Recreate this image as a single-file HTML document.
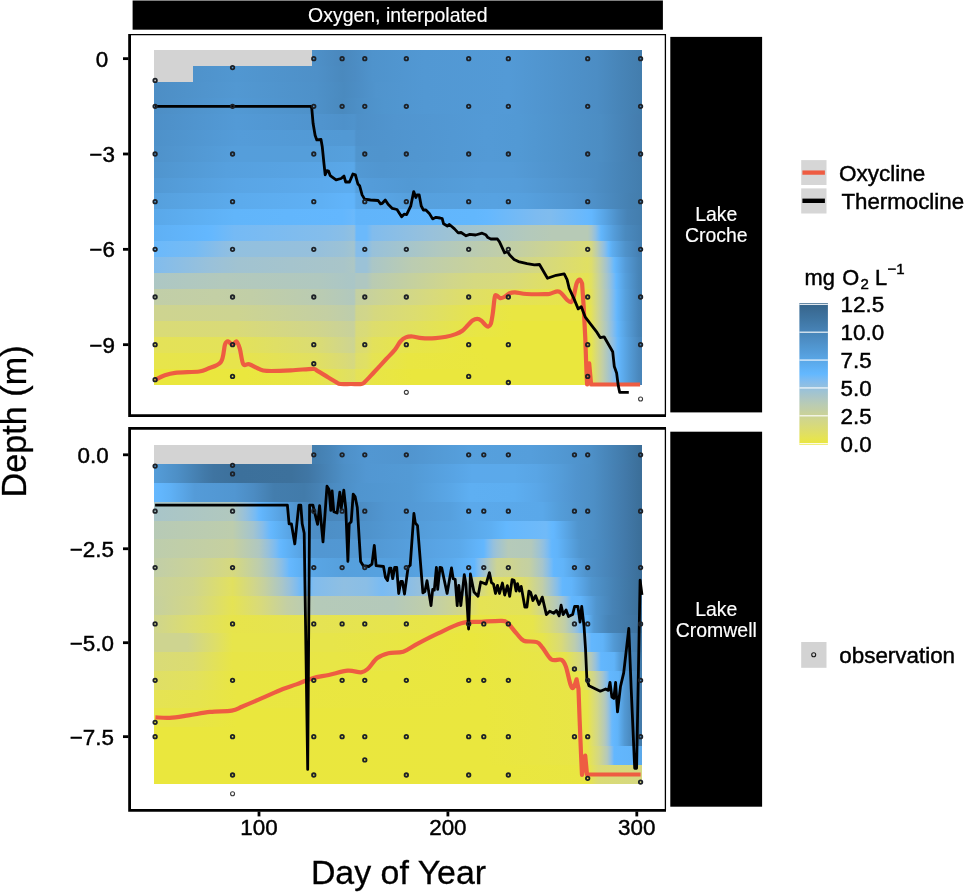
<!DOCTYPE html>
<html lang="en"><head><meta charset="utf-8"><title>Oxygen, interpolated</title>
<style>html,body{margin:0;padding:0;background:#fff}body{width:964px;height:893px;overflow:hidden}svg{display:block}text{font-family:"Liberation Sans", Arial, Helvetica, sans-serif;fill:#000;stroke:#000;stroke-width:0.45px}</style></head><body>
<svg width="964" height="893" viewBox="0 0 964 893">
<rect x="0" y="0" width="964" height="893" fill="#fff"/>
<defs><linearGradient id="a0" gradientUnits="userSpaceOnUse" x1="154.1" y1="0" x2="642" y2="0"><stop offset="0%" stop-color="#4d8ec5"/><stop offset="16.85%" stop-color="#5196d0"/><stop offset="33.12%" stop-color="#4e90c8"/><stop offset="38.54%" stop-color="#4a88bd"/><stop offset="41.63%" stop-color="#4c8dc4"/><stop offset="44.73%" stop-color="#4f93cc"/><stop offset="55.18%" stop-color="#5298d3"/><stop offset="72.61%" stop-color="#539ad6"/><stop offset="90.8%" stop-color="#4c8dc4"/><stop offset="95.84%" stop-color="#4784b7"/><stop offset="100%" stop-color="#437dad"/></linearGradient><linearGradient id="a1" gradientUnits="userSpaceOnUse" x1="154.1" y1="0" x2="642" y2="0"><stop offset="0%" stop-color="#4d8ec5"/><stop offset="16.85%" stop-color="#5197d1"/><stop offset="33.5%" stop-color="#4e90c8"/><stop offset="38.54%" stop-color="#4a89be"/><stop offset="41.25%" stop-color="#4c8cc3"/><stop offset="44.73%" stop-color="#4f93cc"/><stop offset="55.18%" stop-color="#5298d3"/><stop offset="72.61%" stop-color="#539ad6"/><stop offset="90.8%" stop-color="#4c8dc4"/><stop offset="95.84%" stop-color="#4784b7"/><stop offset="100%" stop-color="#437dad"/></linearGradient><linearGradient id="a2" gradientUnits="userSpaceOnUse" x1="154.1" y1="0" x2="642" y2="0"><stop offset="0%" stop-color="#4d8ec5"/><stop offset="16.85%" stop-color="#5298d2"/><stop offset="33.12%" stop-color="#4e91c9"/><stop offset="38.92%" stop-color="#4a8abf"/><stop offset="41.4%" stop-color="#4c8dc4"/><stop offset="45.5%" stop-color="#5094cd"/><stop offset="55.57%" stop-color="#5298d3"/><stop offset="72.61%" stop-color="#539ad6"/><stop offset="90.8%" stop-color="#4c8dc4"/><stop offset="95.84%" stop-color="#4784b7"/><stop offset="100%" stop-color="#437dad"/></linearGradient><linearGradient id="a3" gradientUnits="userSpaceOnUse" x1="154.1" y1="0" x2="642" y2="0"><stop offset="0%" stop-color="#4d8ec5"/><stop offset="16.47%" stop-color="#5299d4"/><stop offset="33.5%" stop-color="#4e91c9"/><stop offset="38.54%" stop-color="#4a8abf"/><stop offset="43.18%" stop-color="#4e91c9"/><stop offset="47.05%" stop-color="#5095ce"/><stop offset="55.57%" stop-color="#5298d3"/><stop offset="72.61%" stop-color="#539ad6"/><stop offset="90.8%" stop-color="#4c8dc4"/><stop offset="95.84%" stop-color="#4784b7"/><stop offset="100%" stop-color="#437dad"/></linearGradient><linearGradient id="a4" gradientUnits="userSpaceOnUse" x1="154.1" y1="0" x2="642" y2="0"><stop offset="0%" stop-color="#4d8fc7"/><stop offset="16.85%" stop-color="#539ad6"/><stop offset="34.28%" stop-color="#5094ce"/><stop offset="38.92%" stop-color="#4e91ca"/><stop offset="41.01%" stop-color="#4f93cc"/><stop offset="41.63%" stop-color="#4e90c8"/><stop offset="49.38%" stop-color="#5195cf"/><stop offset="68.35%" stop-color="#539ad6"/><stop offset="74.93%" stop-color="#5299d4"/><stop offset="91.58%" stop-color="#4c8dc3"/><stop offset="99.32%" stop-color="#447dae"/><stop offset="100%" stop-color="#437dad"/></linearGradient><linearGradient id="a5" gradientUnits="userSpaceOnUse" x1="154.1" y1="0" x2="642" y2="0"><stop offset="0%" stop-color="#4e91c9"/><stop offset="17.24%" stop-color="#549cd9"/><stop offset="39.31%" stop-color="#5299d4"/><stop offset="41.01%" stop-color="#5399d4"/><stop offset="41.4%" stop-color="#4f92cb"/><stop offset="67.96%" stop-color="#539ad6"/><stop offset="74.93%" stop-color="#5299d4"/><stop offset="91.58%" stop-color="#4c8dc3"/><stop offset="99.32%" stop-color="#447dae"/><stop offset="100%" stop-color="#437dad"/></linearGradient><linearGradient id="a6" gradientUnits="userSpaceOnUse" x1="154.1" y1="0" x2="642" y2="0"><stop offset="0%" stop-color="#4f92ca"/><stop offset="16.08%" stop-color="#559edb"/><stop offset="34.28%" stop-color="#559eda"/><stop offset="41.01%" stop-color="#56a0dd"/><stop offset="41.4%" stop-color="#5095ce"/><stop offset="46.67%" stop-color="#5094cd"/><stop offset="60.6%" stop-color="#5298d3"/><stop offset="68.73%" stop-color="#539ad6"/><stop offset="74.93%" stop-color="#5299d4"/><stop offset="91.58%" stop-color="#4c8dc3"/><stop offset="99.32%" stop-color="#447dae"/><stop offset="100%" stop-color="#437dad"/></linearGradient><linearGradient id="a7" gradientUnits="userSpaceOnUse" x1="154.1" y1="0" x2="642" y2="0"><stop offset="0%" stop-color="#5095ce"/><stop offset="14.92%" stop-color="#56a0de"/><stop offset="35.05%" stop-color="#59a5e5"/><stop offset="40.86%" stop-color="#5aa8e9"/><stop offset="41.01%" stop-color="#5aa8e9"/><stop offset="41.4%" stop-color="#5299d4"/><stop offset="46.67%" stop-color="#5196d0"/><stop offset="55.57%" stop-color="#5298d2"/><stop offset="67.57%" stop-color="#549bd8"/><stop offset="73.38%" stop-color="#549bd7"/><stop offset="90.8%" stop-color="#4c8dc4"/><stop offset="95.84%" stop-color="#4784b7"/><stop offset="100%" stop-color="#437dad"/></linearGradient><linearGradient id="a8" gradientUnits="userSpaceOnUse" x1="154.1" y1="0" x2="642" y2="0"><stop offset="0%" stop-color="#5299d4"/><stop offset="16.85%" stop-color="#59a5e5"/><stop offset="34.28%" stop-color="#5caaec"/><stop offset="40.08%" stop-color="#5dadf0"/><stop offset="41.01%" stop-color="#5dadf0"/><stop offset="41.4%" stop-color="#56a0dd"/><stop offset="44.34%" stop-color="#549cd9"/><stop offset="52.47%" stop-color="#5299d4"/><stop offset="66.41%" stop-color="#559edb"/><stop offset="74.54%" stop-color="#559dda"/><stop offset="89.25%" stop-color="#4e90c8"/><stop offset="95.84%" stop-color="#4784b7"/><stop offset="100%" stop-color="#437dad"/></linearGradient><linearGradient id="a9" gradientUnits="userSpaceOnUse" x1="154.1" y1="0" x2="642" y2="0"><stop offset="0%" stop-color="#56a0dd"/><stop offset="17.63%" stop-color="#5cabed"/><stop offset="34.28%" stop-color="#5fb0f4"/><stop offset="39.31%" stop-color="#61b4fa"/><stop offset="41.01%" stop-color="#61b4fa"/><stop offset="41.4%" stop-color="#5ba9eb"/><stop offset="52.47%" stop-color="#56a0dd"/><stop offset="69.9%" stop-color="#57a2e1"/><stop offset="76.09%" stop-color="#56a0de"/><stop offset="85.38%" stop-color="#5297d2"/><stop offset="90.42%" stop-color="#4e90c8"/><stop offset="97.77%" stop-color="#4580b1"/><stop offset="100%" stop-color="#437dad"/></linearGradient><linearGradient id="a10" gradientUnits="userSpaceOnUse" x1="154.1" y1="0" x2="642" y2="0"><stop offset="0%" stop-color="#5aa8e9"/><stop offset="16.47%" stop-color="#61b5fa"/><stop offset="38.54%" stop-color="#63b7fe"/><stop offset="40.08%" stop-color="#67b8fd"/><stop offset="41.01%" stop-color="#6bb9fb"/><stop offset="41.25%" stop-color="#62b7fd"/><stop offset="41.4%" stop-color="#61b4fa"/><stop offset="65.64%" stop-color="#62b7fd"/><stop offset="68.35%" stop-color="#65b8fe"/><stop offset="78.41%" stop-color="#7dbbf0"/><stop offset="81.12%" stop-color="#80bcee"/><stop offset="88.87%" stop-color="#66b8fe"/><stop offset="89.64%" stop-color="#63b7fe"/><stop offset="92.35%" stop-color="#58a4e4"/><stop offset="95.06%" stop-color="#4d8fc7"/><stop offset="97%" stop-color="#4783b6"/><stop offset="100%" stop-color="#437dad"/></linearGradient><linearGradient id="a11" gradientUnits="userSpaceOnUse" x1="154.1" y1="0" x2="642" y2="0"><stop offset="0%" stop-color="#5fb0f4"/><stop offset="10.66%" stop-color="#63b7fe"/><stop offset="11.82%" stop-color="#65b8fe"/><stop offset="16.47%" stop-color="#75baf5"/><stop offset="35.05%" stop-color="#84bdeb"/><stop offset="38.92%" stop-color="#8abee6"/><stop offset="41.01%" stop-color="#92c0df"/><stop offset="41.25%" stop-color="#7dbcf0"/><stop offset="41.4%" stop-color="#6bb9fb"/><stop offset="43.57%" stop-color="#6bb9fb"/><stop offset="44.73%" stop-color="#81bced"/><stop offset="56.73%" stop-color="#98c1db"/><stop offset="76.48%" stop-color="#b3c9bc"/><stop offset="81.51%" stop-color="#b7cab6"/><stop offset="88.87%" stop-color="#b7cab6"/><stop offset="89.64%" stop-color="#aac6c7"/><stop offset="90.42%" stop-color="#93c0df"/><stop offset="91.19%" stop-color="#72baf7"/><stop offset="91.58%" stop-color="#62b6fc"/><stop offset="94.29%" stop-color="#549cd9"/><stop offset="96.61%" stop-color="#4a8abf"/><stop offset="100%" stop-color="#447eaf"/></linearGradient><linearGradient id="a12" gradientUnits="userSpaceOnUse" x1="154.1" y1="0" x2="642" y2="0"><stop offset="0%" stop-color="#6bb9fb"/><stop offset="8.34%" stop-color="#76bbf4"/><stop offset="14.14%" stop-color="#8cbee5"/><stop offset="16.47%" stop-color="#92c0df"/><stop offset="33.5%" stop-color="#96c0dc"/><stop offset="38.92%" stop-color="#9cc2d6"/><stop offset="41.01%" stop-color="#a3c4cf"/><stop offset="41.4%" stop-color="#85bdea"/><stop offset="43.57%" stop-color="#85bdea"/><stop offset="44.73%" stop-color="#98c1da"/><stop offset="57.89%" stop-color="#b0c8c0"/><stop offset="67.19%" stop-color="#bcccaf"/><stop offset="74.16%" stop-color="#c3cfa4"/><stop offset="82.67%" stop-color="#cfd58d"/><stop offset="88.87%" stop-color="#d9db77"/><stop offset="89.64%" stop-color="#d5d881"/><stop offset="90.8%" stop-color="#bbccb1"/><stop offset="91.58%" stop-color="#a3c4cf"/><stop offset="92.35%" stop-color="#8bbee6"/><stop offset="93.13%" stop-color="#68b9fd"/><stop offset="93.51%" stop-color="#60b3f9"/><stop offset="93.9%" stop-color="#5dadf0"/><stop offset="96.61%" stop-color="#4f92ca"/><stop offset="99.32%" stop-color="#4681b4"/><stop offset="100%" stop-color="#457fb1"/></linearGradient><linearGradient id="a13" gradientUnits="userSpaceOnUse" x1="154.1" y1="0" x2="642" y2="0"><stop offset="0%" stop-color="#81bced"/><stop offset="11.43%" stop-color="#99c1da"/><stop offset="17.24%" stop-color="#a1c3d1"/><stop offset="38.92%" stop-color="#a9c5c9"/><stop offset="41.01%" stop-color="#adc7c4"/><stop offset="41.4%" stop-color="#9bc2d7"/><stop offset="43.57%" stop-color="#9bc2d7"/><stop offset="44.73%" stop-color="#aac6c7"/><stop offset="52.86%" stop-color="#bbccb1"/><stop offset="66.41%" stop-color="#c9d29a"/><stop offset="73.38%" stop-color="#cdd491"/><stop offset="85.77%" stop-color="#dddd6c"/><stop offset="88.87%" stop-color="#e0e063"/><stop offset="89.64%" stop-color="#dddd6d"/><stop offset="91.19%" stop-color="#c5d0a1"/><stop offset="92.74%" stop-color="#a2c3d0"/><stop offset="93.51%" stop-color="#89bee7"/><stop offset="94.29%" stop-color="#68b9fc"/><stop offset="94.68%" stop-color="#61b4fa"/><stop offset="96.61%" stop-color="#549bd8"/><stop offset="99.32%" stop-color="#4784b7"/><stop offset="100%" stop-color="#4581b2"/></linearGradient><linearGradient id="a14" gradientUnits="userSpaceOnUse" x1="154.1" y1="0" x2="642" y2="0"><stop offset="0%" stop-color="#adc7c4"/><stop offset="14.14%" stop-color="#b3c9bc"/><stop offset="33.89%" stop-color="#b0c8bf"/><stop offset="41.01%" stop-color="#aac6c7"/><stop offset="41.4%" stop-color="#afc7c1"/><stop offset="43.57%" stop-color="#afc7c1"/><stop offset="44.73%" stop-color="#b9cbb3"/><stop offset="60.99%" stop-color="#d1d68a"/><stop offset="65.64%" stop-color="#d5d980"/><stop offset="72.61%" stop-color="#d8da7b"/><stop offset="82.29%" stop-color="#e1e060"/><stop offset="88.87%" stop-color="#e5e354"/><stop offset="89.64%" stop-color="#e0e063"/><stop offset="91.19%" stop-color="#c8d29b"/><stop offset="92.74%" stop-color="#a8c5c9"/><stop offset="93.51%" stop-color="#92c0df"/><stop offset="94.29%" stop-color="#76baf5"/><stop offset="94.68%" stop-color="#63b8ff"/><stop offset="96.61%" stop-color="#559edb"/><stop offset="99.32%" stop-color="#4784b7"/><stop offset="100%" stop-color="#4581b2"/></linearGradient><linearGradient id="a15" gradientUnits="userSpaceOnUse" x1="154.1" y1="0" x2="642" y2="0"><stop offset="0%" stop-color="#c1cea8"/><stop offset="12.6%" stop-color="#c3cfa5"/><stop offset="19.95%" stop-color="#c1cea7"/><stop offset="34.66%" stop-color="#b9cbb3"/><stop offset="41.01%" stop-color="#b1c8be"/><stop offset="41.4%" stop-color="#c4d0a2"/><stop offset="43.96%" stop-color="#c7d19d"/><stop offset="45.89%" stop-color="#cad397"/><stop offset="57.51%" stop-color="#d8da7b"/><stop offset="65.64%" stop-color="#e0df64"/><stop offset="74.16%" stop-color="#e4e256"/><stop offset="88.87%" stop-color="#e8e547"/><stop offset="89.64%" stop-color="#e1e05f"/><stop offset="90.8%" stop-color="#d0d68b"/><stop offset="91.97%" stop-color="#bbccb0"/><stop offset="93.13%" stop-color="#a1c3d2"/><stop offset="94.29%" stop-color="#7abbf2"/><stop offset="94.68%" stop-color="#69b9fc"/><stop offset="95.06%" stop-color="#61b4fa"/><stop offset="96.61%" stop-color="#56a0dd"/><stop offset="99.32%" stop-color="#4784b8"/><stop offset="100%" stop-color="#4581b2"/></linearGradient><linearGradient id="a16" gradientUnits="userSpaceOnUse" x1="154.1" y1="0" x2="642" y2="0"><stop offset="0%" stop-color="#ced490"/><stop offset="17.24%" stop-color="#cdd491"/><stop offset="35.44%" stop-color="#c4cfa3"/><stop offset="41.01%" stop-color="#bdcdad"/><stop offset="41.4%" stop-color="#cfd58d"/><stop offset="43.57%" stop-color="#d1d68a"/><stop offset="45.12%" stop-color="#d5d880"/><stop offset="53.64%" stop-color="#dcdd6f"/><stop offset="66.02%" stop-color="#e6e44d"/><stop offset="73.38%" stop-color="#e9e642"/><stop offset="88.87%" stop-color="#e9e642"/><stop offset="89.64%" stop-color="#e3e15b"/><stop offset="90.8%" stop-color="#d1d68a"/><stop offset="91.58%" stop-color="#c3cfa5"/><stop offset="93.13%" stop-color="#a1c3d2"/><stop offset="94.29%" stop-color="#7abbf2"/><stop offset="94.68%" stop-color="#69b9fc"/><stop offset="95.06%" stop-color="#61b4fa"/><stop offset="96.61%" stop-color="#56a0dd"/><stop offset="99.32%" stop-color="#4784b8"/><stop offset="100%" stop-color="#4581b2"/></linearGradient><linearGradient id="a17" gradientUnits="userSpaceOnUse" x1="154.1" y1="0" x2="642" y2="0"><stop offset="0%" stop-color="#d9db77"/><stop offset="16.85%" stop-color="#d9da78"/><stop offset="33.5%" stop-color="#d0d58c"/><stop offset="41.01%" stop-color="#c8d19c"/><stop offset="41.4%" stop-color="#d8da7b"/><stop offset="43.57%" stop-color="#d9db77"/><stop offset="44.73%" stop-color="#dddd6d"/><stop offset="66.02%" stop-color="#e8e645"/><stop offset="73.77%" stop-color="#eae73d"/><stop offset="88.87%" stop-color="#eae73d"/><stop offset="89.64%" stop-color="#e4e258"/><stop offset="90.42%" stop-color="#d9db78"/><stop offset="91.58%" stop-color="#c4d0a2"/><stop offset="92.74%" stop-color="#adc7c4"/><stop offset="93.9%" stop-color="#8cbee5"/><stop offset="94.68%" stop-color="#6eb9f9"/><stop offset="95.06%" stop-color="#62b6fc"/><stop offset="97%" stop-color="#559dd9"/><stop offset="99.32%" stop-color="#4784b8"/><stop offset="100%" stop-color="#4581b2"/></linearGradient><linearGradient id="a18" gradientUnits="userSpaceOnUse" x1="154.1" y1="0" x2="642" y2="0"><stop offset="0%" stop-color="#e4e258"/><stop offset="16.85%" stop-color="#e3e259"/><stop offset="33.12%" stop-color="#dbdc72"/><stop offset="40.08%" stop-color="#cfd58f"/><stop offset="41.01%" stop-color="#ccd493"/><stop offset="41.4%" stop-color="#dadb74"/><stop offset="43.57%" stop-color="#dddd6d"/><stop offset="44.73%" stop-color="#e3e15b"/><stop offset="52.86%" stop-color="#e7e54a"/><stop offset="65.64%" stop-color="#eae73d"/><stop offset="88.87%" stop-color="#eae73d"/><stop offset="89.64%" stop-color="#e6e450"/><stop offset="90.8%" stop-color="#d5d880"/><stop offset="91.97%" stop-color="#c1cea8"/><stop offset="93.51%" stop-color="#9ec2d4"/><stop offset="94.29%" stop-color="#86bdea"/><stop offset="95.06%" stop-color="#65b8fe"/><stop offset="95.84%" stop-color="#5eaef1"/><stop offset="97.39%" stop-color="#549cd8"/><stop offset="99.32%" stop-color="#4a88bd"/><stop offset="100%" stop-color="#4784b8"/></linearGradient><linearGradient id="a19" gradientUnits="userSpaceOnUse" x1="154.1" y1="0" x2="642" y2="0"><stop offset="0%" stop-color="#e7e54b"/><stop offset="16.85%" stop-color="#e7e44c"/><stop offset="33.12%" stop-color="#e1e061"/><stop offset="39.31%" stop-color="#d9da78"/><stop offset="41.01%" stop-color="#d5d881"/><stop offset="41.4%" stop-color="#dede6a"/><stop offset="43.57%" stop-color="#e0e063"/><stop offset="44.73%" stop-color="#e5e354"/><stop offset="52.09%" stop-color="#e9e642"/><stop offset="68.35%" stop-color="#eae73d"/><stop offset="88.87%" stop-color="#eae73d"/><stop offset="89.64%" stop-color="#e6e450"/><stop offset="90.8%" stop-color="#d5d880"/><stop offset="91.97%" stop-color="#c1cea8"/><stop offset="93.51%" stop-color="#9ec2d4"/><stop offset="94.29%" stop-color="#86bdea"/><stop offset="95.06%" stop-color="#65b8fe"/><stop offset="95.84%" stop-color="#5eaef1"/><stop offset="97.39%" stop-color="#549cd8"/><stop offset="99.32%" stop-color="#4a88bd"/><stop offset="100%" stop-color="#4784b8"/></linearGradient><linearGradient id="a20" gradientUnits="userSpaceOnUse" x1="154.1" y1="0" x2="642" y2="0"><stop offset="0%" stop-color="#eae73d"/><stop offset="18.4%" stop-color="#eae73e"/><stop offset="33.12%" stop-color="#e8e548"/><stop offset="40.08%" stop-color="#e0e062"/><stop offset="41.01%" stop-color="#dfdf66"/><stop offset="41.4%" stop-color="#e4e258"/><stop offset="43.57%" stop-color="#e5e354"/><stop offset="44.73%" stop-color="#e8e547"/><stop offset="52.86%" stop-color="#eae73d"/><stop offset="88.87%" stop-color="#eae73d"/><stop offset="89.64%" stop-color="#e6e450"/><stop offset="90.8%" stop-color="#d5d880"/><stop offset="91.97%" stop-color="#c1cea8"/><stop offset="93.51%" stop-color="#9ec2d4"/><stop offset="94.29%" stop-color="#86bdea"/><stop offset="95.06%" stop-color="#65b8fe"/><stop offset="95.84%" stop-color="#5eaef1"/><stop offset="97.39%" stop-color="#549cd8"/><stop offset="99.32%" stop-color="#4a88bd"/><stop offset="100%" stop-color="#4784b8"/></linearGradient><linearGradient id="b0" gradientUnits="userSpaceOnUse" x1="154.1" y1="0" x2="642" y2="0"><stop offset="0%" stop-color="#447eaf"/><stop offset="33.12%" stop-color="#447fb0"/><stop offset="36.21%" stop-color="#4886ba"/><stop offset="38.92%" stop-color="#4e90c8"/><stop offset="43.57%" stop-color="#5297d2"/><stop offset="52.47%" stop-color="#5195cf"/><stop offset="64.48%" stop-color="#56a0dd"/><stop offset="77.25%" stop-color="#559edb"/><stop offset="82.67%" stop-color="#5299d4"/><stop offset="89.25%" stop-color="#4e91c9"/><stop offset="96.22%" stop-color="#427bab"/><stop offset="99.32%" stop-color="#3c709b"/><stop offset="100%" stop-color="#3c6e99"/></linearGradient><linearGradient id="b1" gradientUnits="userSpaceOnUse" x1="154.1" y1="0" x2="642" y2="0"><stop offset="0%" stop-color="#559dd9"/><stop offset="4.85%" stop-color="#4d8fc6"/><stop offset="10.27%" stop-color="#427aa9"/><stop offset="12.21%" stop-color="#3f74a1"/><stop offset="17.24%" stop-color="#3c709b"/><stop offset="28.08%" stop-color="#3d719c"/><stop offset="31.57%" stop-color="#4076a4"/><stop offset="38.92%" stop-color="#4d8fc6"/><stop offset="43.57%" stop-color="#5297d2"/><stop offset="52.47%" stop-color="#539ad5"/><stop offset="61.38%" stop-color="#58a4e4"/><stop offset="65.25%" stop-color="#5ba9eb"/><stop offset="73.77%" stop-color="#5ba9ea"/><stop offset="78.41%" stop-color="#59a5e5"/><stop offset="83.45%" stop-color="#549cd8"/><stop offset="86.54%" stop-color="#5094ce"/><stop offset="90.03%" stop-color="#4d8fc6"/><stop offset="96.61%" stop-color="#4279a9"/><stop offset="99.32%" stop-color="#3c709b"/><stop offset="100%" stop-color="#3c6e99"/></linearGradient><linearGradient id="b2" gradientUnits="userSpaceOnUse" x1="154.1" y1="0" x2="642" y2="0"><stop offset="0%" stop-color="#66b8fe"/><stop offset="1.37%" stop-color="#62b6fd"/><stop offset="3.3%" stop-color="#5fb1f6"/><stop offset="8.34%" stop-color="#549bd8"/><stop offset="16.47%" stop-color="#5196d1"/><stop offset="20.34%" stop-color="#4c8cc3"/><stop offset="24.6%" stop-color="#437dad"/><stop offset="30.79%" stop-color="#427baa"/><stop offset="33.5%" stop-color="#4681b3"/><stop offset="36.6%" stop-color="#4b8bc1"/><stop offset="42.02%" stop-color="#5095cf"/><stop offset="52.47%" stop-color="#539ad5"/><stop offset="60.99%" stop-color="#5aa7e7"/><stop offset="64.86%" stop-color="#5eaff2"/><stop offset="73.77%" stop-color="#5daef1"/><stop offset="78.41%" stop-color="#5aa7e8"/><stop offset="86.54%" stop-color="#5094ce"/><stop offset="90.03%" stop-color="#4d8fc6"/><stop offset="96.61%" stop-color="#4279a9"/><stop offset="99.32%" stop-color="#3c709b"/><stop offset="100%" stop-color="#3c6e99"/></linearGradient><linearGradient id="b3" gradientUnits="userSpaceOnUse" x1="154.1" y1="0" x2="642" y2="0"><stop offset="0%" stop-color="#a8c5c9"/><stop offset="16.08%" stop-color="#b1c8be"/><stop offset="18.79%" stop-color="#95c0dd"/><stop offset="20.73%" stop-color="#77bbf4"/><stop offset="21.5%" stop-color="#66b8fe"/><stop offset="22.27%" stop-color="#61b4fa"/><stop offset="26.53%" stop-color="#569fdd"/><stop offset="32.73%" stop-color="#4784b8"/><stop offset="39.31%" stop-color="#4a88bd"/><stop offset="47.44%" stop-color="#5196d1"/><stop offset="57.51%" stop-color="#559dda"/><stop offset="60.6%" stop-color="#56a0de"/><stop offset="64.86%" stop-color="#5ba9eb"/><stop offset="79.58%" stop-color="#5aa8e9"/><stop offset="83.06%" stop-color="#549dd9"/><stop offset="86.93%" stop-color="#5094cd"/><stop offset="90.03%" stop-color="#4d8fc6"/><stop offset="96.61%" stop-color="#4279a9"/><stop offset="99.32%" stop-color="#3c709b"/><stop offset="100%" stop-color="#3c6e99"/></linearGradient><linearGradient id="b4" gradientUnits="userSpaceOnUse" x1="154.1" y1="0" x2="642" y2="0"><stop offset="0%" stop-color="#b7cab6"/><stop offset="16.08%" stop-color="#bdcdad"/><stop offset="20.34%" stop-color="#a3c4cf"/><stop offset="22.27%" stop-color="#87bde9"/><stop offset="23.82%" stop-color="#66b8fe"/><stop offset="24.6%" stop-color="#61b5fa"/><stop offset="28.47%" stop-color="#57a1e0"/><stop offset="32.73%" stop-color="#4d8ec5"/><stop offset="43.96%" stop-color="#4f93cc"/><stop offset="48.22%" stop-color="#5298d3"/><stop offset="62.15%" stop-color="#58a4e3"/><stop offset="69.12%" stop-color="#5eaff2"/><stop offset="72.22%" stop-color="#63b8fe"/><stop offset="72.99%" stop-color="#66b8fd"/><stop offset="80.35%" stop-color="#70baf8"/><stop offset="81.51%" stop-color="#64b8fe"/><stop offset="81.9%" stop-color="#63b7fe"/><stop offset="86.16%" stop-color="#539ad5"/><stop offset="86.93%" stop-color="#5095ce"/><stop offset="90.03%" stop-color="#4d8fc6"/><stop offset="96.61%" stop-color="#4279a9"/><stop offset="99.32%" stop-color="#3c709b"/><stop offset="100%" stop-color="#3c6e99"/></linearGradient><linearGradient id="b5" gradientUnits="userSpaceOnUse" x1="154.1" y1="0" x2="642" y2="0"><stop offset="0%" stop-color="#bdcdad"/><stop offset="16.08%" stop-color="#c6d09f"/><stop offset="21.5%" stop-color="#afc7c1"/><stop offset="23.44%" stop-color="#95c0dd"/><stop offset="24.98%" stop-color="#79bbf3"/><stop offset="25.76%" stop-color="#66b8fe"/><stop offset="26.53%" stop-color="#61b5fb"/><stop offset="32.73%" stop-color="#5297d2"/><stop offset="44.34%" stop-color="#5298d3"/><stop offset="57.89%" stop-color="#59a4e4"/><stop offset="62.54%" stop-color="#5ba9ea"/><stop offset="67.57%" stop-color="#63b7fe"/><stop offset="68.35%" stop-color="#79bbf3"/><stop offset="69.51%" stop-color="#94c0de"/><stop offset="70.28%" stop-color="#9fc3d3"/><stop offset="72.61%" stop-color="#b5cab9"/><stop offset="77.25%" stop-color="#b3c9bb"/><stop offset="79.19%" stop-color="#9bc2d7"/><stop offset="79.96%" stop-color="#8dbfe4"/><stop offset="80.74%" stop-color="#7abbf2"/><stop offset="81.51%" stop-color="#63b7fe"/><stop offset="82.67%" stop-color="#61b4fa"/><stop offset="87.32%" stop-color="#5095ce"/><stop offset="91.58%" stop-color="#4a8ac0"/><stop offset="96.61%" stop-color="#4279a9"/><stop offset="99.32%" stop-color="#3c709b"/><stop offset="100%" stop-color="#3c6e99"/></linearGradient><linearGradient id="b6" gradientUnits="userSpaceOnUse" x1="154.1" y1="0" x2="642" y2="0"><stop offset="0%" stop-color="#c1cea8"/><stop offset="8.72%" stop-color="#cbd397"/><stop offset="16.08%" stop-color="#d6d97e"/><stop offset="21.5%" stop-color="#bdcdad"/><stop offset="24.6%" stop-color="#a3c4cf"/><stop offset="26.15%" stop-color="#8abee6"/><stop offset="27.31%" stop-color="#71baf8"/><stop offset="27.7%" stop-color="#66b8fe"/><stop offset="29.24%" stop-color="#60b3f8"/><stop offset="33.12%" stop-color="#59a5e4"/><stop offset="38.92%" stop-color="#56a0dd"/><stop offset="45.89%" stop-color="#56a1df"/><stop offset="52.47%" stop-color="#56a0de"/><stop offset="60.99%" stop-color="#5cabed"/><stop offset="65.64%" stop-color="#63b7fe"/><stop offset="66.41%" stop-color="#7ebcef"/><stop offset="67.19%" stop-color="#94c0de"/><stop offset="68.73%" stop-color="#b5c9ba"/><stop offset="70.28%" stop-color="#ccd493"/><stop offset="72.61%" stop-color="#cfd58d"/><stop offset="75.32%" stop-color="#c7d19d"/><stop offset="76.87%" stop-color="#c4d0a2"/><stop offset="79.19%" stop-color="#abc6c6"/><stop offset="79.58%" stop-color="#a6c5cc"/><stop offset="80.74%" stop-color="#8abee6"/><stop offset="81.51%" stop-color="#71baf8"/><stop offset="81.9%" stop-color="#63b7fe"/><stop offset="83.83%" stop-color="#61b4f9"/><stop offset="88.48%" stop-color="#5094cd"/><stop offset="96.61%" stop-color="#4279a9"/><stop offset="99.32%" stop-color="#3c709b"/><stop offset="100%" stop-color="#3c6e99"/></linearGradient><linearGradient id="b7" gradientUnits="userSpaceOnUse" x1="154.1" y1="0" x2="642" y2="0"><stop offset="0%" stop-color="#c8d19c"/><stop offset="7.95%" stop-color="#cfd58d"/><stop offset="15.69%" stop-color="#e1e062"/><stop offset="16.08%" stop-color="#e1e05f"/><stop offset="20.34%" stop-color="#d1d689"/><stop offset="22.66%" stop-color="#c5d0a0"/><stop offset="26.15%" stop-color="#aac6c7"/><stop offset="27.7%" stop-color="#98c1db"/><stop offset="29.24%" stop-color="#80bcee"/><stop offset="30.02%" stop-color="#70baf8"/><stop offset="31.95%" stop-color="#70baf8"/><stop offset="32.73%" stop-color="#81bced"/><stop offset="38.92%" stop-color="#8fbfe2"/><stop offset="43.57%" stop-color="#8abee6"/><stop offset="46.67%" stop-color="#79bbf3"/><stop offset="52.47%" stop-color="#8cbee5"/><stop offset="54.41%" stop-color="#95c0dd"/><stop offset="60.22%" stop-color="#95c0dd"/><stop offset="64.09%" stop-color="#a6c5cc"/><stop offset="66.02%" stop-color="#cad298"/><stop offset="66.41%" stop-color="#cfd58d"/><stop offset="68.73%" stop-color="#e0e063"/><stop offset="74.93%" stop-color="#dfdf66"/><stop offset="76.48%" stop-color="#d9db77"/><stop offset="79.58%" stop-color="#c1cea8"/><stop offset="81.12%" stop-color="#a6c5cb"/><stop offset="82.67%" stop-color="#83bdec"/><stop offset="83.45%" stop-color="#6bb9fb"/><stop offset="83.72%" stop-color="#63b7fe"/><stop offset="85.58%" stop-color="#61b4fa"/><stop offset="88.48%" stop-color="#559edc"/><stop offset="89.64%" stop-color="#5095ce"/><stop offset="94.29%" stop-color="#4682b4"/><stop offset="99.32%" stop-color="#3c709b"/><stop offset="100%" stop-color="#3c6e99"/></linearGradient><linearGradient id="b8" gradientUnits="userSpaceOnUse" x1="154.1" y1="0" x2="642" y2="0"><stop offset="0%" stop-color="#c6d09f"/><stop offset="8.34%" stop-color="#d3d785"/><stop offset="16.08%" stop-color="#e5e354"/><stop offset="21.89%" stop-color="#d8da7b"/><stop offset="27.31%" stop-color="#c3cfa5"/><stop offset="33.12%" stop-color="#b5cab9"/><stop offset="48.99%" stop-color="#b4c9ba"/><stop offset="57.51%" stop-color="#c2cfa6"/><stop offset="63.31%" stop-color="#d1d68a"/><stop offset="66.41%" stop-color="#e3e15b"/><stop offset="66.8%" stop-color="#e5e354"/><stop offset="75.7%" stop-color="#e3e259"/><stop offset="76.87%" stop-color="#e3e15b"/><stop offset="79.19%" stop-color="#d2d787"/><stop offset="82.29%" stop-color="#b7cab6"/><stop offset="82.83%" stop-color="#b1c8be"/><stop offset="83.83%" stop-color="#9cc2d7"/><stop offset="84.61%" stop-color="#86bde9"/><stop offset="85.38%" stop-color="#69b9fc"/><stop offset="85.58%" stop-color="#63b7fe"/><stop offset="87.4%" stop-color="#61b4fa"/><stop offset="89.64%" stop-color="#569fdd"/><stop offset="90.61%" stop-color="#5095ce"/><stop offset="93.9%" stop-color="#4783b6"/><stop offset="99.32%" stop-color="#3c709b"/><stop offset="100%" stop-color="#3c6e99"/></linearGradient><linearGradient id="b9" gradientUnits="userSpaceOnUse" x1="154.1" y1="0" x2="642" y2="0"><stop offset="0%" stop-color="#cfd58d"/><stop offset="7.56%" stop-color="#dcdd6f"/><stop offset="15.69%" stop-color="#e6e44d"/><stop offset="16.47%" stop-color="#e7e44b"/><stop offset="33.89%" stop-color="#e5e353"/><stop offset="56.73%" stop-color="#e8e548"/><stop offset="64.86%" stop-color="#e9e642"/><stop offset="77.64%" stop-color="#e7e54b"/><stop offset="80.74%" stop-color="#dbdc72"/><stop offset="83.45%" stop-color="#c8d19c"/><stop offset="84.22%" stop-color="#c1cea8"/><stop offset="86.16%" stop-color="#9dc2d5"/><stop offset="86.93%" stop-color="#87bde9"/><stop offset="87.86%" stop-color="#63b7fe"/><stop offset="88.87%" stop-color="#60b2f6"/><stop offset="90.15%" stop-color="#5299d4"/><stop offset="93.13%" stop-color="#4784b7"/><stop offset="99.32%" stop-color="#3e729e"/><stop offset="100%" stop-color="#3d719d"/></linearGradient><linearGradient id="b10" gradientUnits="userSpaceOnUse" x1="154.1" y1="0" x2="642" y2="0"><stop offset="0%" stop-color="#ced490"/><stop offset="6.79%" stop-color="#ced490"/><stop offset="12.98%" stop-color="#dfdf65"/><stop offset="16.08%" stop-color="#e7e54b"/><stop offset="36.6%" stop-color="#e7e54a"/><stop offset="64.86%" stop-color="#eae73d"/><stop offset="79.58%" stop-color="#e7e54b"/><stop offset="82.67%" stop-color="#dcdd6e"/><stop offset="83.45%" stop-color="#d9da78"/><stop offset="86.16%" stop-color="#bdcdad"/><stop offset="86.93%" stop-color="#b1c8bf"/><stop offset="88.09%" stop-color="#97c1db"/><stop offset="88.87%" stop-color="#80bcee"/><stop offset="89.64%" stop-color="#63b7fe"/><stop offset="91.97%" stop-color="#60b3f8"/><stop offset="94.29%" stop-color="#5299d4"/><stop offset="97%" stop-color="#4784b8"/><stop offset="99.32%" stop-color="#4179a8"/><stop offset="100%" stop-color="#4077a6"/></linearGradient><linearGradient id="b11" gradientUnits="userSpaceOnUse" x1="154.1" y1="0" x2="642" y2="0"><stop offset="0%" stop-color="#d9db77"/><stop offset="7.95%" stop-color="#dbdc71"/><stop offset="16.08%" stop-color="#e8e547"/><stop offset="36.99%" stop-color="#e8e646"/><stop offset="65.25%" stop-color="#eae73e"/><stop offset="84.22%" stop-color="#e7e54b"/><stop offset="86.16%" stop-color="#dcdd6f"/><stop offset="87.32%" stop-color="#d5d881"/><stop offset="89.25%" stop-color="#b8cbb4"/><stop offset="89.64%" stop-color="#b1c8be"/><stop offset="90.42%" stop-color="#99c1d9"/><stop offset="91.19%" stop-color="#78bbf3"/><stop offset="91.58%" stop-color="#63b7fe"/><stop offset="94.29%" stop-color="#60b3f8"/><stop offset="95.64%" stop-color="#5299d4"/><stop offset="98.16%" stop-color="#4783b6"/><stop offset="99.32%" stop-color="#437cac"/><stop offset="100%" stop-color="#427aa9"/></linearGradient><linearGradient id="b12" gradientUnits="userSpaceOnUse" x1="154.1" y1="0" x2="642" y2="0"><stop offset="0%" stop-color="#dfdf66"/><stop offset="8.34%" stop-color="#e2e15e"/><stop offset="16.47%" stop-color="#e9e642"/><stop offset="48.6%" stop-color="#e9e740"/><stop offset="66.41%" stop-color="#eae73e"/><stop offset="87.86%" stop-color="#e7e54b"/><stop offset="88.87%" stop-color="#ddde6b"/><stop offset="90.15%" stop-color="#cfd58d"/><stop offset="91.19%" stop-color="#b9cbb4"/><stop offset="91.97%" stop-color="#a3c4cf"/><stop offset="92.74%" stop-color="#85bdea"/><stop offset="93.36%" stop-color="#63b7fe"/><stop offset="95.22%" stop-color="#60b3f8"/><stop offset="96.61%" stop-color="#5299d4"/><stop offset="98.55%" stop-color="#4784b7"/><stop offset="99.32%" stop-color="#457fb0"/><stop offset="100%" stop-color="#437dad"/></linearGradient><linearGradient id="b13" gradientUnits="userSpaceOnUse" x1="154.1" y1="0" x2="642" y2="0"><stop offset="0%" stop-color="#e5e354"/><stop offset="9.11%" stop-color="#e6e44e"/><stop offset="16.85%" stop-color="#e9e642"/><stop offset="67.19%" stop-color="#eae73e"/><stop offset="88.79%" stop-color="#e8e547"/><stop offset="89.64%" stop-color="#e0df65"/><stop offset="90.8%" stop-color="#d2d788"/><stop offset="92.35%" stop-color="#b4c9bb"/><stop offset="92.74%" stop-color="#a7c5ca"/><stop offset="93.13%" stop-color="#96c1dc"/><stop offset="93.51%" stop-color="#81bced"/><stop offset="93.82%" stop-color="#6bb9fb"/><stop offset="94.29%" stop-color="#63b7fe"/><stop offset="95.06%" stop-color="#60b3f8"/><stop offset="96.42%" stop-color="#5299d4"/><stop offset="98.16%" stop-color="#4784b8"/><stop offset="100%" stop-color="#427aa9"/></linearGradient><linearGradient id="b14" gradientUnits="userSpaceOnUse" x1="154.1" y1="0" x2="642" y2="0"><stop offset="0%" stop-color="#e8e547"/><stop offset="8.72%" stop-color="#e8e546"/><stop offset="16.85%" stop-color="#eae73d"/><stop offset="67.96%" stop-color="#eae73e"/><stop offset="88.79%" stop-color="#e8e547"/><stop offset="89.64%" stop-color="#e0df65"/><stop offset="90.8%" stop-color="#d2d788"/><stop offset="92.35%" stop-color="#b4c9bb"/><stop offset="92.74%" stop-color="#a7c5ca"/><stop offset="93.13%" stop-color="#96c1dc"/><stop offset="93.51%" stop-color="#81bced"/><stop offset="93.82%" stop-color="#6bb9fb"/><stop offset="94.29%" stop-color="#63b7fe"/><stop offset="95.06%" stop-color="#60b3f8"/><stop offset="96.42%" stop-color="#5299d4"/><stop offset="98.16%" stop-color="#4784b8"/><stop offset="100%" stop-color="#427aa9"/></linearGradient><linearGradient id="b15" gradientUnits="userSpaceOnUse" x1="154.1" y1="0" x2="642" y2="0"><stop offset="0%" stop-color="#eae73d"/><stop offset="67.96%" stop-color="#eae73e"/><stop offset="88.79%" stop-color="#e8e547"/><stop offset="89.64%" stop-color="#e0df65"/><stop offset="90.8%" stop-color="#d2d788"/><stop offset="92.35%" stop-color="#b4c9bb"/><stop offset="92.74%" stop-color="#a7c5ca"/><stop offset="93.13%" stop-color="#96c1dc"/><stop offset="93.51%" stop-color="#81bced"/><stop offset="93.82%" stop-color="#6bb9fb"/><stop offset="94.29%" stop-color="#63b7fe"/><stop offset="95.06%" stop-color="#60b3f8"/><stop offset="96.42%" stop-color="#5299d4"/><stop offset="98.16%" stop-color="#4784b8"/><stop offset="100%" stop-color="#427aa9"/></linearGradient><linearGradient id="b16" gradientUnits="userSpaceOnUse" x1="154.1" y1="0" x2="642" y2="0"><stop offset="0%" stop-color="#eae73d"/><stop offset="67.96%" stop-color="#eae73e"/><stop offset="88.79%" stop-color="#e8e547"/><stop offset="90.03%" stop-color="#dede69"/><stop offset="91.19%" stop-color="#d3d785"/><stop offset="92.74%" stop-color="#b6cab8"/><stop offset="92.93%" stop-color="#b1c8be"/><stop offset="93.51%" stop-color="#97c1db"/><stop offset="93.9%" stop-color="#81bcee"/><stop offset="94.29%" stop-color="#63b7fe"/><stop offset="97.97%" stop-color="#61b4fa"/><stop offset="99.32%" stop-color="#5cabed"/><stop offset="100%" stop-color="#5aa8e9"/></linearGradient><linearGradient id="b17" gradientUnits="userSpaceOnUse" x1="154.1" y1="0" x2="642" y2="0"><stop offset="0%" stop-color="#eae73d"/><stop offset="71.45%" stop-color="#eae73e"/><stop offset="88.79%" stop-color="#e9e642"/><stop offset="90.03%" stop-color="#e1e05f"/><stop offset="91.07%" stop-color="#dadb74"/><stop offset="100%" stop-color="#d5d881"/></linearGradient><linearGradient id="cb" x1="0" y1="0" x2="0" y2="1"><stop offset="0%" stop-color="#36648b"/><stop offset="2.5%" stop-color="#37678e"/><stop offset="5%" stop-color="#3a6b94"/><stop offset="7.5%" stop-color="#3c6f9a"/><stop offset="10%" stop-color="#3e739f"/><stop offset="12.5%" stop-color="#4077a5"/><stop offset="15%" stop-color="#427bab"/><stop offset="17.5%" stop-color="#457fb1"/><stop offset="20%" stop-color="#4784b7"/><stop offset="22.5%" stop-color="#4988bc"/><stop offset="25%" stop-color="#4c8cc2"/><stop offset="27.5%" stop-color="#4e90c8"/><stop offset="30%" stop-color="#5095ce"/><stop offset="32.5%" stop-color="#5299d4"/><stop offset="35%" stop-color="#559dda"/><stop offset="37.5%" stop-color="#57a2e0"/><stop offset="40%" stop-color="#59a6e6"/><stop offset="42.5%" stop-color="#5cabec"/><stop offset="45%" stop-color="#5eaff3"/><stop offset="47.5%" stop-color="#61b4f9"/><stop offset="50%" stop-color="#63b8ff"/><stop offset="52.5%" stop-color="#73baf6"/><stop offset="55%" stop-color="#81bcee"/><stop offset="57.5%" stop-color="#8cbee5"/><stop offset="60%" stop-color="#96c0dc"/><stop offset="62.5%" stop-color="#9fc3d3"/><stop offset="65%" stop-color="#a7c5ca"/><stop offset="67.5%" stop-color="#afc7c2"/><stop offset="70%" stop-color="#b5cab9"/><stop offset="72.5%" stop-color="#bcccb0"/><stop offset="75%" stop-color="#c1cea7"/><stop offset="77.5%" stop-color="#c7d19d"/><stop offset="80%" stop-color="#ccd394"/><stop offset="82.5%" stop-color="#d1d68a"/><stop offset="85%" stop-color="#d5d881"/><stop offset="87.5%" stop-color="#d9db76"/><stop offset="90%" stop-color="#dddd6c"/><stop offset="92.5%" stop-color="#e1e061"/><stop offset="95%" stop-color="#e5e354"/><stop offset="97.5%" stop-color="#e8e547"/><stop offset="100%" stop-color="#eae73d"/></linearGradient></defs>
<rect x="132.6" y="0.5" width="530.3" height="29.2" fill="#000"/>
<text x="397.8" y="22.1" font-size="19.45" text-anchor="middle" style="fill:#fff;stroke:#fff;stroke-width:0.15px">Oxygen, interpolated</text>
<rect x="670.3" y="36.9" width="91.8" height="375.5" fill="#000"/>
<rect x="670.3" y="431.7" width="91.8" height="375" fill="#000"/>
<text x="716.3" y="220.8" font-size="19.45" text-anchor="middle" style="fill:#fff;stroke:#fff;stroke-width:0.15px">Lake</text>
<text x="716.3" y="241.9" font-size="19.45" text-anchor="middle" style="fill:#fff;stroke:#fff;stroke-width:0.15px">Croche</text>
<text x="716.3" y="615.6" font-size="19.45" text-anchor="middle" style="fill:#fff;stroke:#fff;stroke-width:0.15px">Lake</text>
<text x="716.3" y="636.7" font-size="19.45" text-anchor="middle" style="fill:#fff;stroke:#fff;stroke-width:0.15px">Cromwell</text>
<g shape-rendering="crispEdges"><rect x="154.1" y="50.1" width="487.9" height="15.93" fill="url(#a0)"/><rect x="154.1" y="66.03" width="487.9" height="15.93" fill="url(#a1)"/><rect x="154.1" y="81.96" width="487.9" height="15.93" fill="url(#a2)"/><rect x="154.1" y="97.89" width="487.9" height="15.93" fill="url(#a3)"/><rect x="154.1" y="113.82" width="487.9" height="15.93" fill="url(#a4)"/><rect x="154.1" y="129.75" width="487.9" height="15.93" fill="url(#a5)"/><rect x="154.1" y="145.68" width="487.9" height="15.93" fill="url(#a6)"/><rect x="154.1" y="161.61" width="487.9" height="15.93" fill="url(#a7)"/><rect x="154.1" y="177.54" width="487.9" height="15.93" fill="url(#a8)"/><rect x="154.1" y="193.47" width="487.9" height="15.93" fill="url(#a9)"/><rect x="154.1" y="209.4" width="487.9" height="15.93" fill="url(#a10)"/><rect x="154.1" y="225.33" width="487.9" height="15.93" fill="url(#a11)"/><rect x="154.1" y="241.26" width="487.9" height="15.93" fill="url(#a12)"/><rect x="154.1" y="257.19" width="487.9" height="15.93" fill="url(#a13)"/><rect x="154.1" y="273.12" width="487.9" height="15.93" fill="url(#a14)"/><rect x="154.1" y="289.05" width="487.9" height="15.93" fill="url(#a15)"/><rect x="154.1" y="304.98" width="487.9" height="15.93" fill="url(#a16)"/><rect x="154.1" y="320.91" width="487.9" height="15.93" fill="url(#a17)"/><rect x="154.1" y="336.84" width="487.9" height="15.93" fill="url(#a18)"/><rect x="154.1" y="352.77" width="487.9" height="15.93" fill="url(#a19)"/><rect x="154.1" y="368.7" width="487.9" height="15.93" fill="url(#a20)"/><rect x="154.1" y="50.1" width="38.9" height="31.8" fill="#d3d3d3"/><rect x="154.1" y="50.1" width="158.1" height="16" fill="#d3d3d3"/></g>
<path d="M155.4 379.8 C156.91 379.07 160.95 376.69 164.3 375.5 C167.65 374.31 169.15 373.48 175.1 372.8 C181.05 372.12 193.81 372.18 199.3 371.5 C204.79 370.82 203.73 370.42 207.4 368.8 C211.07 367.19 217.91 366.13 220.9 362 C223.89 357.87 223.76 348.02 225 344.5 C226.24 340.98 226.92 341.22 228.2 341.3 C229.47 341.38 231.09 345 232.5 345 C233.91 345 235.26 340.69 236.5 341.3 C237.74 341.91 238.64 344.71 239.8 348.6 C240.96 352.49 241.7 361.55 243.3 364.2 C244.9 366.85 246.58 363.42 249.2 364.2 C251.82 364.98 255.71 367.66 258.7 368.8 C261.69 369.94 261.31 370.63 266.8 370.9 C272.29 371.17 283.21 370.76 291 370.4 C298.79 370.04 308.18 368.77 312.6 368.8 C317.02 368.83 314.38 369.17 317 370.6 C319.62 372.03 324.69 375.19 328 377.2 C331.31 379.21 334.38 381.24 336.5 382.4 C338.62 383.56 338.04 383.73 340.5 384 C342.96 384.27 347.43 384 351 384 C354.57 384 359.04 384.48 361.5 384 C363.96 383.52 363.38 383.21 365.5 381.2 C367.62 379.19 370.51 375.92 374 372.2 C377.49 368.48 382.43 363.14 386 359.3 C389.57 355.46 392.55 352.63 395 349.6 C397.45 346.57 398.56 343.57 400.4 341.5 C402.24 339.43 403.74 338.25 405.8 337.4 C407.86 336.55 409.75 336.38 412.5 336.5 C415.25 336.62 418.09 337.83 422 338.1 C425.91 338.37 431.39 338.32 435.5 338.1 C439.61 337.88 442.77 337.48 446.2 336.8 C449.63 336.12 452.95 335.14 455.7 334.1 C458.45 333.06 460.34 332.2 462.4 330.7 C464.46 329.2 466.08 327.02 467.8 325.3 C469.52 323.58 470.88 321.71 472.5 320.6 C474.12 319.5 475.8 318.8 477.3 318.8 C478.8 318.8 479.92 319.55 481.3 320.6 C482.68 321.65 484.24 323.98 485.4 325 C486.56 326.02 487.18 326.79 488.1 326.6 C489.02 326.41 490 326.18 490.8 323.9 C491.6 321.62 492.12 317.77 492.8 313.2 C493.48 308.63 494.12 299.99 494.8 297 C495.48 294.01 495.88 295.41 496.8 295.6 C497.72 295.79 498.94 297.86 500.2 298.1 C501.46 298.34 502.6 297.83 504.2 297 C505.8 296.17 507.76 294 509.6 293.2 C511.44 292.4 512.09 292.16 515 292.3 C517.91 292.44 521.6 293.68 526.7 294 C531.8 294.32 541.04 294.25 545 294.2 C548.96 294.15 547.82 294.19 550 293.7 C552.18 293.21 555.79 291.3 557.8 291.3 C559.81 291.3 560.2 292.22 561.8 293.7 C563.4 295.18 565.6 298.59 567.2 300 C568.8 301.41 570.13 302.41 571.2 302 C572.27 301.59 572.58 300.75 573.5 297.6 C574.42 294.46 575.53 286.56 576.6 283.5 C577.67 280.44 578.87 279.6 579.8 279.6 C580.73 279.6 581.71 282.84 582.1 283.5 L583.7 307 L585.3 338.4 L586.4 369.7 L587.1 384.5 L589.2 363.4 L591.1 384.5 L640.1 384.5" fill="none" stroke="#ee5c42" stroke-width="4.2" stroke-linejoin="round" stroke-linecap="butt"/>
<path d="M155.1 106.3 L310.9 106.3 L311.8 108.5 L313.1 123.6 L315.1 135.3 L316.8 139.9 L321 139.5 L322.3 147.1 L324 163.9 L325.2 174.8 L326.9 170.6 L328.5 171.1 L330.2 175.6 L336.1 179.8 L341.1 178.5 L344 176.1 L345.7 182 L349.5 182 L352.9 174 L355.4 174.8 L357.9 184 L359.6 185.7 L362.1 194.9 L364.6 199.1 L370.5 200 L378.1 200.5 L380.6 203.8 L382.3 203.3 L385.3 200 L388.1 204.2 L392.3 208.4 L397 209.5 L401.6 216.8 L404.1 214.2 L406.6 214.6 L410.8 205.8 L413.7 191.6 L415.9 197.5 L417 194.9 L419.2 194.9 L421.2 205.8 L423.4 210 L425.9 210 L429.3 213.4 L432.6 218.9 L436 217.3 L440 218 L442.2 218.7 L443.6 223.8 L447.3 226 L449.4 224.5 L454.5 228.9 L458.2 232.9 L461.1 232.5 L466.1 235.8 L469.8 234.4 L475.6 235 L482.1 233.2 L485.7 234.7 L487.9 237.6 L490.8 239 L497.4 239 L499.5 241.9 L504.6 252.8 L507.5 251.4 L509.7 255 L514.1 259.4 L518.4 261.6 L527.1 263.7 L534.4 264.9 L539.5 264.5 L547.5 278.3 L556.2 275.3 L564.2 273.9 L567.1 279.7 L569.2 288.4 L573.5 297.6 L578.2 308.9 L581.3 306.7 L585.3 317.2 L590.8 324.3 L597 332.4 L600.2 337.6 L604.1 336.8 L612.7 351.7 L614.3 366.6 L616.6 372.9 L618.2 385.4 L619.7 392.4 L628.8 392.4" fill="none" stroke="#000" stroke-width="2.8" stroke-linejoin="round" stroke-linecap="butt"/>
<g fill="none" stroke="#1d2127" stroke-width="1.8"><circle cx="155.11" cy="80.42" r="1.75"/><circle cx="155.11" cy="106.32" r="1.75"/><circle cx="155.11" cy="153.99" r="1.75"/><circle cx="155.11" cy="201.66" r="1.75"/><circle cx="155.11" cy="249.33" r="1.75"/><circle cx="155.11" cy="297" r="1.75"/><circle cx="155.11" cy="344.67" r="1.75"/><circle cx="155.11" cy="379.63" r="1.75"/><circle cx="232.55" cy="67.55" r="1.75"/><circle cx="232.55" cy="106.32" r="1.75"/><circle cx="232.55" cy="153.99" r="1.75"/><circle cx="232.55" cy="201.66" r="1.75"/><circle cx="232.55" cy="249.33" r="1.75"/><circle cx="232.55" cy="297" r="1.75"/><circle cx="232.55" cy="344.67" r="1.75"/><circle cx="232.55" cy="376.45" r="1.75"/><circle cx="313.78" cy="58.65" r="1.75"/><circle cx="313.78" cy="106.32" r="1.75"/><circle cx="313.78" cy="153.99" r="1.75"/><circle cx="313.78" cy="201.66" r="1.75"/><circle cx="313.78" cy="249.33" r="1.75"/><circle cx="313.78" cy="297" r="1.75"/><circle cx="313.78" cy="344.67" r="1.75"/><circle cx="313.78" cy="363.74" r="1.75"/><circle cx="342.12" cy="58.65" r="1.75"/><circle cx="342.12" cy="106.32" r="1.75"/><circle cx="364.78" cy="58.65" r="1.75"/><circle cx="364.78" cy="106.32" r="1.75"/><circle cx="364.78" cy="153.99" r="1.75"/><circle cx="364.78" cy="201.66" r="1.75"/><circle cx="364.78" cy="249.33" r="1.75"/><circle cx="364.78" cy="297" r="1.75"/><circle cx="364.78" cy="344.67" r="1.75"/><circle cx="406.34" cy="58.65" r="1.75"/><circle cx="406.34" cy="106.32" r="1.75"/><circle cx="406.34" cy="153.99" r="1.75"/><circle cx="406.34" cy="201.66" r="1.75"/><circle cx="406.34" cy="249.33" r="1.75"/><circle cx="406.34" cy="297" r="1.75"/><circle cx="406.34" cy="344.67" r="1.75"/><circle cx="468.68" cy="58.65" r="1.75"/><circle cx="468.68" cy="106.32" r="1.75"/><circle cx="468.68" cy="153.99" r="1.75"/><circle cx="468.68" cy="201.66" r="1.75"/><circle cx="468.68" cy="249.33" r="1.75"/><circle cx="468.68" cy="297" r="1.75"/><circle cx="468.68" cy="344.67" r="1.75"/><circle cx="468.68" cy="376.45" r="1.75"/><circle cx="508.35" cy="58.65" r="1.75"/><circle cx="508.35" cy="106.32" r="1.75"/><circle cx="508.35" cy="153.99" r="1.75"/><circle cx="508.35" cy="201.66" r="1.75"/><circle cx="508.35" cy="249.33" r="1.75"/><circle cx="508.35" cy="297" r="1.75"/><circle cx="508.35" cy="344.67" r="1.75"/><circle cx="508.35" cy="382.49" r="1.75"/><circle cx="587.69" cy="58.65" r="1.75"/><circle cx="587.69" cy="106.32" r="1.75"/><circle cx="587.69" cy="153.99" r="1.75"/><circle cx="587.69" cy="201.66" r="1.75"/><circle cx="587.69" cy="249.33" r="1.75"/><circle cx="587.69" cy="297" r="1.75"/><circle cx="587.69" cy="344.67" r="1.75"/><circle cx="587.69" cy="376.45" r="1.75"/><circle cx="640.58" cy="58.65" r="1.75"/><circle cx="640.58" cy="106.32" r="1.75"/><circle cx="640.58" cy="153.99" r="1.75"/><circle cx="640.58" cy="201.66" r="1.75"/><circle cx="640.58" cy="249.33" r="1.75"/><circle cx="640.58" cy="297" r="1.75"/><circle cx="640.58" cy="344.67" r="1.75"/></g>
<g fill="none" stroke="#3a3a3a" stroke-width="1.1"><circle cx="406.34" cy="392.34" r="2"/><circle cx="640.58" cy="399.01" r="2"/></g>
<g shape-rendering="crispEdges"><rect x="154.1" y="445.4" width="487.9" height="18.79" fill="url(#b0)"/><rect x="154.1" y="464.19" width="487.9" height="18.79" fill="url(#b1)"/><rect x="154.1" y="482.98" width="487.9" height="18.79" fill="url(#b2)"/><rect x="154.1" y="501.77" width="487.9" height="18.79" fill="url(#b3)"/><rect x="154.1" y="520.56" width="487.9" height="18.79" fill="url(#b4)"/><rect x="154.1" y="539.35" width="487.9" height="18.79" fill="url(#b5)"/><rect x="154.1" y="558.14" width="487.9" height="18.79" fill="url(#b6)"/><rect x="154.1" y="576.93" width="487.9" height="18.79" fill="url(#b7)"/><rect x="154.1" y="595.72" width="487.9" height="18.79" fill="url(#b8)"/><rect x="154.1" y="614.51" width="487.9" height="18.79" fill="url(#b9)"/><rect x="154.1" y="633.3" width="487.9" height="18.79" fill="url(#b10)"/><rect x="154.1" y="652.09" width="487.9" height="18.79" fill="url(#b11)"/><rect x="154.1" y="670.88" width="487.9" height="18.79" fill="url(#b12)"/><rect x="154.1" y="689.67" width="487.9" height="18.79" fill="url(#b13)"/><rect x="154.1" y="708.46" width="487.9" height="18.79" fill="url(#b14)"/><rect x="154.1" y="727.25" width="487.9" height="18.79" fill="url(#b15)"/><rect x="154.1" y="746.04" width="487.9" height="18.79" fill="url(#b16)"/><rect x="154.1" y="764.83" width="487.9" height="18.79" fill="url(#b17)"/><rect x="154.1" y="445" width="158.1" height="18.6" fill="#d3d3d3"/></g>
<path d="M155.4 717.3 C157.83 717.4 164.07 718.22 169.7 717.9 C175.33 717.58 181.63 716.42 188.5 715.4 C195.37 714.38 202.76 712.72 210.1 711.9 C217.44 711.08 226.19 711.52 231.7 710.6 C237.21 709.68 237.45 708.57 242.5 706.5 C247.55 704.43 254.53 701.38 261.4 698.4 C268.27 695.42 276.95 691.38 282.9 689 C288.85 686.62 291.35 686.24 296.4 684.4 C301.45 682.56 307.09 679.8 312.6 678.2 C318.11 676.6 322.83 676.27 328.8 675 C334.77 673.73 342.21 671.16 347.7 670.7 C353.19 670.24 357.67 672.62 361.1 672.3 C364.53 671.98 365.15 671.23 367.9 668.8 C370.65 666.37 373.81 660.65 377.3 658 C380.79 655.35 384 654.27 388.4 653.2 C392.8 652.13 398.2 653.33 403.2 651.7 C408.2 650.07 411.87 646.71 417.8 643.6 C423.73 640.49 430.71 636.87 438.1 633.4 C445.5 629.93 453.89 625.17 461.3 623.2 C468.71 621.23 474.78 622.19 481.7 621.8 C488.62 621.41 497.56 620.66 502 620.9 C506.44 621.14 505.34 621.08 507.8 623.2 C510.26 625.33 513.78 630.42 516.5 633.4 C519.22 636.38 520.35 639.22 523.8 640.7 C527.25 642.18 533.59 640.88 536.8 642.1 C540.01 643.32 540.22 644.94 542.7 647.9 C545.18 650.86 548.2 657.48 551.4 659.5 C554.6 661.52 559.03 658.56 561.5 659.8 C563.97 661.04 564.37 662.6 565.9 666.8 C567.43 671 569.23 680.95 570.5 684.5 C571.77 688.05 572.36 688.58 573.4 687.7 C574.44 686.82 576.06 680.73 576.6 679.3 L578.5 689 L579.6 719 L581 753.5 L582 775 L585.2 755.5 L587 774.5 L640.6 774.5" fill="none" stroke="#ee5c42" stroke-width="4.2" stroke-linejoin="round" stroke-linecap="butt"/>
<path d="M155.1 505.2 L286.7 505.2 L287.4 505.2 L289.1 523.8 L291.4 523.8 L294.8 543.9 L298.8 505.2 L300.8 505.2 L302.2 523.8 L304.2 533.2 L307.7 769.4 L309.6 505.2 L312.9 505.2 L317.6 524.4 L319.6 505.6 L323 541.9 L327 486.1 L329 489.5 L330.8 510.3 L332.1 490.8 L333.8 511.7 L337.1 513 L339.8 492.2 L341.1 509 L343.8 490.2 L345.8 509 L347.9 561.4 L349.2 523.8 L351.2 521.7 L353.2 494.2 L355.2 496.9 L357.3 507.6 L360.6 561.4 L363.3 565.7 L368.7 566.5 L372 564.1 L374.3 545.3 L376.1 565.7 L383.5 566.5 L385.5 577.5 L387.5 580.5 L389.5 568.1 L390.9 568.1 L392.7 578.7 L394.7 567.3 L396.7 567.3 L398.7 593.5 L400.8 581.4 L402.4 581.4 L404.5 594.1 L408.1 567.3 L410.2 565.3 L413.9 513.5 L415.3 522.9 L417.5 525.6 L422.9 592.8 L424.9 591.5 L427 580.7 L431 605.6 L432.7 589.4 L434.3 590.1 L436.4 567.3 L437.7 589.4 L440 567.3 L441.7 567.9 L447.1 593.5 L451.5 567.9 L453.2 578.7 L455.2 579.4 L457.2 605.6 L458.8 585.4 L460.8 605.6 L464.3 574.7 L465.9 584.1 L468.6 629 L470.4 574 L474 592.1 L478 596.2 L480.7 582 L486.1 584.1 L489.4 572.6 L491.5 582.7 L493.5 584.1 L495.5 593.5 L497.5 585.4 L499.5 593.5 L502.4 583 L504.7 595.1 L507.4 585.7 L509.7 596.4 L512.1 579.6 L514.1 580.3 L516.1 591.1 L517.5 583.7 L519.5 591.1 L521.2 586.4 L524.9 607.2 L526.9 607.2 L528.9 591.1 L530.6 592.4 L532.9 600.5 L535.6 595.8 L539 604.5 L542.3 597.1 L546.4 614.6 L549.7 611.2 L553.8 613.2 L556.4 610.5 L559.1 615.9 L561.1 605.2 L563.2 614.6 L566.1 609.9 L568.5 616.6 L572.6 614.6 L574.6 606.5 L577.9 606.5 L580 622 L581.7 606.5 L584 626 L585.5 648.7 L586.9 679.6 L589 685.8 L600.3 691.2 L605.7 689 L608.4 690.4 L610 682.3 L611.9 697.1 L613.8 698.4 L615.6 682.3 L617.5 711.9 L620.5 686.3 L623.7 672.9 L628.8 628.5 L631.2 689 L634.7 768.3 L636.6 768.3 L638.5 667.5 L640.1 580.2 L642 594.9" fill="none" stroke="#000" stroke-width="2.8" stroke-linejoin="round" stroke-linecap="butt"/>
<g fill="none" stroke="#1d2127" stroke-width="1.8"><circle cx="155.11" cy="466.07" r="1.75"/><circle cx="155.11" cy="511.17" r="1.75"/><circle cx="155.11" cy="567.54" r="1.75"/><circle cx="155.11" cy="623.91" r="1.75"/><circle cx="155.11" cy="680.28" r="1.75"/><circle cx="155.11" cy="722.37" r="1.75"/><circle cx="155.11" cy="736.65" r="1.75"/><circle cx="232.55" cy="465.32" r="1.75"/><circle cx="232.55" cy="473.97" r="1.75"/><circle cx="232.55" cy="511.17" r="1.75"/><circle cx="232.55" cy="567.54" r="1.75"/><circle cx="232.55" cy="623.91" r="1.75"/><circle cx="232.55" cy="680.28" r="1.75"/><circle cx="232.55" cy="736.65" r="1.75"/><circle cx="232.55" cy="774.98" r="1.75"/><circle cx="313.78" cy="454.8" r="1.75"/><circle cx="313.78" cy="511.17" r="1.75"/><circle cx="313.78" cy="567.54" r="1.75"/><circle cx="313.78" cy="623.91" r="1.75"/><circle cx="313.78" cy="680.28" r="1.75"/><circle cx="313.78" cy="736.65" r="1.75"/><circle cx="313.78" cy="774.98" r="1.75"/><circle cx="342.12" cy="454.8" r="1.75"/><circle cx="342.12" cy="511.17" r="1.75"/><circle cx="342.12" cy="567.54" r="1.75"/><circle cx="342.12" cy="623.91" r="1.75"/><circle cx="342.12" cy="680.28" r="1.75"/><circle cx="342.12" cy="736.65" r="1.75"/><circle cx="364.78" cy="454.8" r="1.75"/><circle cx="364.78" cy="511.17" r="1.75"/><circle cx="364.78" cy="567.54" r="1.75"/><circle cx="364.78" cy="623.91" r="1.75"/><circle cx="364.78" cy="680.28" r="1.75"/><circle cx="364.78" cy="736.65" r="1.75"/><circle cx="364.78" cy="759.95" r="1.75"/><circle cx="406.34" cy="454.8" r="1.75"/><circle cx="406.34" cy="511.17" r="1.75"/><circle cx="406.34" cy="567.54" r="1.75"/><circle cx="406.34" cy="623.91" r="1.75"/><circle cx="406.34" cy="680.28" r="1.75"/><circle cx="406.34" cy="736.65" r="1.75"/><circle cx="406.34" cy="774.98" r="1.75"/><circle cx="468.68" cy="454.8" r="1.75"/><circle cx="468.68" cy="511.17" r="1.75"/><circle cx="468.68" cy="567.54" r="1.75"/><circle cx="468.68" cy="623.91" r="1.75"/><circle cx="468.68" cy="680.28" r="1.75"/><circle cx="468.68" cy="736.65" r="1.75"/><circle cx="468.68" cy="774.98" r="1.75"/><circle cx="483.79" cy="454.8" r="1.75"/><circle cx="483.79" cy="511.17" r="1.75"/><circle cx="483.79" cy="567.54" r="1.75"/><circle cx="483.79" cy="623.91" r="1.75"/><circle cx="483.79" cy="680.28" r="1.75"/><circle cx="483.79" cy="736.65" r="1.75"/><circle cx="508.35" cy="454.8" r="1.75"/><circle cx="508.35" cy="511.17" r="1.75"/><circle cx="508.35" cy="567.54" r="1.75"/><circle cx="508.35" cy="623.91" r="1.75"/><circle cx="508.35" cy="680.28" r="1.75"/><circle cx="508.35" cy="736.65" r="1.75"/><circle cx="508.35" cy="774.98" r="1.75"/><circle cx="574.46" cy="454.8" r="1.75"/><circle cx="574.46" cy="511.17" r="1.75"/><circle cx="574.46" cy="567.54" r="1.75"/><circle cx="574.46" cy="623.91" r="1.75"/><circle cx="574.46" cy="669.01" r="1.75"/><circle cx="574.46" cy="736.65" r="1.75"/><circle cx="587.69" cy="454.8" r="1.75"/><circle cx="587.69" cy="511.17" r="1.75"/><circle cx="587.69" cy="567.54" r="1.75"/><circle cx="587.69" cy="623.91" r="1.75"/><circle cx="587.69" cy="680.28" r="1.75"/><circle cx="587.69" cy="736.65" r="1.75"/><circle cx="587.69" cy="778.36" r="1.75"/><circle cx="640.58" cy="454.8" r="1.75"/><circle cx="640.58" cy="511.17" r="1.75"/><circle cx="640.58" cy="567.54" r="1.75"/><circle cx="640.58" cy="623.91" r="1.75"/><circle cx="640.58" cy="680.28" r="1.75"/><circle cx="640.58" cy="736.65" r="1.75"/><circle cx="640.58" cy="782.12" r="1.75"/></g>
<g fill="none" stroke="#3a3a3a" stroke-width="1.1"><circle cx="232.55" cy="793.77" r="2"/></g>
<path d="M129.6 34.6 H665.4 V415.5" fill="none" stroke="#000" stroke-width="1.3"/>
<path d="M129.6 33.9 V415.55 H666" fill="none" stroke="#000" stroke-width="2.8"/>
<path d="M665.4 428 V810.4" fill="none" stroke="#000" stroke-width="1.3"/>
<path d="M666 428.45 H129.6 V810.4 H666" fill="none" stroke="#000" stroke-width="2.8"/>
<path d="M123 58.65 H128.5" stroke="#000" stroke-width="2.8"/><text x="102.1" y="66.65" font-size="22.4" text-anchor="middle">0</text><path d="M123 153.99 H128.5" stroke="#000" stroke-width="2.8"/><text x="102.1" y="161.99" font-size="22.4" text-anchor="middle">−3</text><path d="M123 249.33 H128.5" stroke="#000" stroke-width="2.8"/><text x="102.1" y="257.33" font-size="22.4" text-anchor="middle">−6</text><path d="M123 344.67 H128.5" stroke="#000" stroke-width="2.8"/><text x="102.1" y="352.67" font-size="22.4" text-anchor="middle">−9</text><path d="M123 454.8 H128.5" stroke="#000" stroke-width="2.8"/><text x="93.1" y="462.8" font-size="22.4" text-anchor="middle">0.0</text><path d="M123 548.75 H128.5" stroke="#000" stroke-width="2.8"/><text x="91.8" y="556.75" font-size="22.4" text-anchor="middle">−2.5</text><path d="M123 642.7 H128.5" stroke="#000" stroke-width="2.8"/><text x="91.8" y="650.7" font-size="22.4" text-anchor="middle">−5.0</text><path d="M123 736.65 H128.5" stroke="#000" stroke-width="2.8"/><text x="91.8" y="744.65" font-size="22.4" text-anchor="middle">−7.5</text><path d="M259 811.5 V816.4" stroke="#000" stroke-width="2.8"/><text x="259" y="835.4" font-size="22.4" text-anchor="middle">100</text><path d="M447.9 811.5 V816.4" stroke="#000" stroke-width="2.8"/><text x="447.9" y="835.4" font-size="22.4" text-anchor="middle">200</text><path d="M636.8 811.5 V816.4" stroke="#000" stroke-width="2.8"/><text x="636.8" y="835.4" font-size="22.4" text-anchor="middle">300</text>
<text x="398.5" y="884" font-size="33.9" text-anchor="middle" style="stroke-width:0.3px">Day of Year</text>
<text transform="translate(25.6 421.4) rotate(-90)" font-size="34.2" text-anchor="middle" style="stroke-width:0.3px">Depth (m)</text>
<rect x="801.2" y="160.1" width="25.3" height="24.9" fill="#d6d6d6"/>
<rect x="801.2" y="188.4" width="25.3" height="25.1" fill="#d6d6d6"/>
<path d="M802.4 172.6 H824.9" stroke="#ee5c42" stroke-width="4.3"/>
<path d="M802.4 200.8 H824.9" stroke="#000" stroke-width="4.4"/>
<text x="838.9" y="180.8" font-size="22.5">Oxycline</text>
<text x="841.4" y="209.1" font-size="22.3">Thermocline</text>
<text y="284.7" font-size="21.8"><tspan x="804.6">mg</tspan><tspan x="842.2">O</tspan><tspan x="875">L</tspan></text>
<text x="860.4" y="288.8" font-size="15">2</text><text x="887.6" y="273.8" font-size="15">−1</text>
<rect x="799.4" y="303" width="28.5" height="141.9" fill="url(#cb)"/>
<path d="M799.4 304.3 H827.9" stroke="#fff" stroke-width="1.1"/>
<text x="840.5" y="312.3" font-size="22.4">12.5</text>
<path d="M799.4 332.18 H827.9" stroke="#fff" stroke-width="1.1"/>
<text x="840.5" y="340.18" font-size="22.4">10.0</text>
<path d="M799.4 360.06 H827.9" stroke="#fff" stroke-width="1.1"/>
<text x="840.5" y="368.06" font-size="22.4">7.5</text>
<path d="M799.4 387.94 H827.9" stroke="#fff" stroke-width="1.1"/>
<text x="840.5" y="395.94" font-size="22.4">5.0</text>
<path d="M799.4 415.82 H827.9" stroke="#fff" stroke-width="1.1"/>
<text x="840.5" y="423.82" font-size="22.4">2.5</text>
<path d="M799.4 443.7 H827.9" stroke="#fff" stroke-width="1.1"/>
<text x="840.5" y="451.7" font-size="22.4">0.0</text>
<rect x="801.2" y="642" width="25.3" height="25.8" fill="#d3d3d3"/>
<circle cx="813.7" cy="654.8" r="2" fill="none" stroke="#1a1a1a" stroke-width="1.1"/>
<text x="839.3" y="663.1" font-size="22.4">observation</text>
</svg></body></html>
